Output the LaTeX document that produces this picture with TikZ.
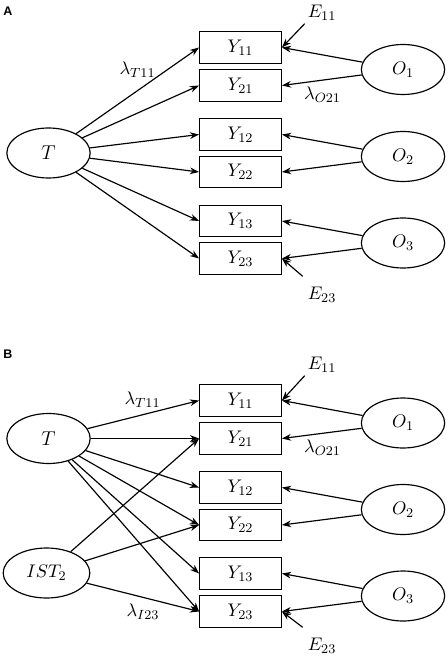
\documentclass[tikz,border=0pt]{standalone}
\usepackage{fontspec}
\setsansfont{Liberation Sans}
\usetikzlibrary{shapes.geometric,arrows.meta}

\begin{document}
\begin{tikzpicture}[x=0.6pt, y=-0.6pt, line width=0.7pt, font=\fontsize{11}{13}\selectfont]
\tikzset{obs/.style={draw, rectangle, minimum width=49pt, minimum height=19pt, inner sep=0pt}}
\tikzset{latent/.style={draw, ellipse, minimum width=50pt, minimum height=30pt, inner sep=0pt}}
\tikzset{load/.style={-{Stealth[length=5.5pt, width=4pt]}}}
\tikzset{err/.style={inner sep=1.5pt}}
\tikzset{panel/.style={font=\sffamily\bfseries\fontsize{7.5}{9}\selectfont}}
\useasboundingbox (0,0) rectangle (447,656);
% panel A
\node[panel] (PA) at (8,11) {A};
\node[latent] (TA) at (48.5,153) {\fontsize{13}{15}\selectfont $T$};
\node[obs] (Y11A) at (240.5,47.5) {$Y_{11}$};
\node[obs] (Y21A) at (240.5,85.5) {$Y_{21}$};
\node[obs] (Y12A) at (240.5,134.5) {$Y_{12}$};
\node[obs] (Y22A) at (240.5,172) {$Y_{22}$};
\node[obs] (Y13A) at (240.5,221) {$Y_{13}$};
\node[obs] (Y23A) at (240.5,258.5) {$Y_{23}$};
\node[latent] (O1A) at (403,69.5) {$O_1$};
\node[latent] (O2A) at (403,156.5) {$O_2$};
\node[latent] (O3A) at (403,243) {$O_3$};
\node[err] (E11A) at (322,13) {$E_{11}$};
\node[err] (E23A) at (322,295) {$E_{23}$};
\node (lT11A) at (137.5,70) {$\lambda_{T11}$};
\node (lO21A) at (322.5,95) {$\lambda_{O21}$};
\draw[load] (TA) -- (Y11A.west);
\draw[load] (TA) -- (Y21A.west);
\draw[load] (TA) -- (Y12A.west);
\draw[load] (TA) -- (Y22A.west);
\draw[load] (TA) -- (Y13A.west);
\draw[load] (TA) -- (Y23A.west);
\draw[load] (O1A) -- (Y11A.east);
\draw[load] (O1A) -- (Y21A.east);
\draw[load] (O2A) -- (Y12A.east);
\draw[load] (O2A) -- (Y22A.east);
\draw[load] (O3A) -- (Y13A.east);
\draw[load] (O3A) -- (Y23A.east);
\draw[load] (E11A.south west) -- (Y11A.east);
\draw[load] ([shift={(-2,-8)}]E23A.north west) -- (Y23A.east);
% panel B
\node[panel] (PB) at (8,354) {B};
\node[latent] (TB) at (48.5,438.5) {\fontsize{13}{15}\selectfont $T$};
\node[latent, minimum width=52pt] (ISTB) at (46.5,573) {$IST_2$};
\node[obs] (Y11B) at (240.5,400.5) {$Y_{11}$};
\node[obs] (Y21B) at (240.5,438.5) {$Y_{21}$};
\node[obs] (Y12B) at (240.5,487.5) {$Y_{12}$};
\node[obs] (Y22B) at (240.5,525) {$Y_{22}$};
\node[obs] (Y13B) at (240.5,573.5) {$Y_{13}$};
\node[obs] (Y23B) at (240.5,611.5) {$Y_{23}$};
\node[latent] (O1B) at (403,423) {$O_1$};
\node[latent] (O2B) at (403,509.5) {$O_2$};
\node[latent] (O3B) at (403,596) {$O_3$};
\node[err] (E11B) at (322,365) {$E_{11}$};
\node[err] (E23B) at (322,646) {$E_{23}$};
\node (lT11B) at (142.5,400) {$\lambda_{T11}$};
\node (lO21B) at (322.5,448) {$\lambda_{O21}$};
\node (lI23B) at (143,612) {$\lambda_{I23}$};
\draw[load] (TB) -- (Y11B.west);
\draw[load] (TB) -- (Y21B.west);
\draw[load] (TB) -- (Y12B.west);
\draw[load] (TB) -- (Y22B.west);
\draw[load] (TB) -- (Y13B.west);
\draw[load] (TB) -- (Y23B.west);
\draw[load] (ISTB) -- (Y21B.west);
\draw[load] (ISTB) -- (Y22B.west);
\draw[load] (ISTB) -- (Y23B.west);
\draw[load] (O1B) -- (Y11B.east);
\draw[load] (O1B) -- (Y21B.east);
\draw[load] (O2B) -- (Y12B.east);
\draw[load] (O2B) -- (Y22B.east);
\draw[load] (O3B) -- (Y13B.east);
\draw[load] (O3B) -- (Y23B.east);
\draw[load] (E11B.south west) -- (Y11B.east);
\draw[load] ([shift={(-2,-8)}]E23B.north west) -- (Y23B.east);
\end{tikzpicture}
\end{document}
